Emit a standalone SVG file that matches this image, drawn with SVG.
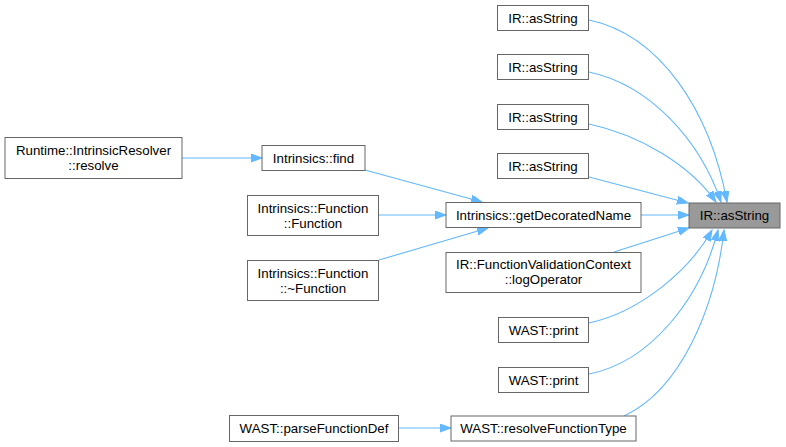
<svg xmlns="http://www.w3.org/2000/svg" width="786" height="447" viewBox="0 0 786 447">
<defs>
<marker id="ah" markerWidth="13" markerHeight="10" refX="11" refY="4" orient="auto" markerUnits="userSpaceOnUse">
<path d="M0,0 L11,4 L0,8 z" fill="#63b8ff" stroke="#63b8ff" stroke-width="1"/>
</marker>
</defs>
<style>
.n rect{fill:#ffffff;stroke:#666666;stroke-width:1}
.n.m rect{fill:#999999}
.n text{font-family:"Liberation Sans",Arial,sans-serif;font-size:13.3px;fill:#000000;text-anchor:middle}
.e path{fill:none;stroke:#63b8ff;stroke-width:1.1;marker-end:url(#ah)}
</style>
<rect width="786" height="447" fill="#ffffff"/>
<g class="e" id="connectors">
<path d="M589,20 C660,35 710,110 727,202"/>
<path d="M589,72 C650,85 700,140 721,202"/>
<path d="M589,124 C640,135 690,165 716,202"/>
<path d="M589,177 L688,203"/>
<path d="M641,215 L689,215"/>
<path d="M614,252 L689,228"/>
<path d="M589,323 C640,312 690,270 712,230"/>
<path d="M589,374 C650,362 700,300 718,230"/>
<path d="M624,416 C680,390 715,310 724,230"/>
<path d="M365,170 L482,202"/>
<path d="M379,215 L446,215"/>
<path d="M379,260 L488,228"/>
<path d="M182,158 L262,158"/>
<path d="M398,428 L451,428"/>
</g>
<g class="n m" id="main"><rect x="689" y="203" width="91" height="25"/><text x="734.5" y="220">IR::asString</text></g>
<g class="n" id="as1"><rect x="497.5" y="5.5" width="91" height="25"/><text x="543" y="22.5">IR::asString</text></g>
<g class="n" id="as2"><rect x="497.5" y="54.5" width="91" height="25"/><text x="543" y="71.5">IR::asString</text></g>
<g class="n" id="as3"><rect x="497.5" y="104.5" width="91" height="25"/><text x="543" y="121.5">IR::asString</text></g>
<g class="n" id="as4"><rect x="497.5" y="153.5" width="91" height="25"/><text x="543" y="170.5">IR::asString</text></g>
<g class="n" id="getdec"><rect x="446" y="202.5" width="195" height="25"/><text x="543.5" y="219.5">Intrinsics::getDecoratedName</text></g>
<g class="n" id="logop"><rect x="446" y="252.5" width="195" height="40"/><text x="543.5" y="269">IR::FunctionValidationContext</text><text x="543.5" y="284">::logOperator</text></g>
<g class="n" id="print1"><rect x="498.5" y="317.5" width="90" height="25"/><text x="543.5" y="334.5">WAST::print</text></g>
<g class="n" id="print2"><rect x="498.5" y="367.5" width="90" height="25"/><text x="543.5" y="384.5">WAST::print</text></g>
<g class="n" id="resolveft"><rect x="451" y="416" width="185" height="25"/><text x="543.5" y="433">WAST::resolveFunctionType</text></g>
<g class="n" id="parsefd"><rect x="229.5" y="415.5" width="169" height="26"/><text x="314" y="433">WAST::parseFunctionDef</text></g>
<g class="n" id="rtresolve"><rect x="5" y="137.5" width="177" height="41"/><text x="93.5" y="155">Runtime::IntrinsicResolver</text><text x="93.5" y="170">::resolve</text></g>
<g class="n" id="find"><rect x="262" y="145.5" width="103" height="25"/><text x="313.5" y="162.5">Intrinsics::find</text></g>
<g class="n" id="fnctor"><rect x="247.5" y="195.5" width="131" height="40"/><text x="313" y="213">Intrinsics::Function</text><text x="313" y="228">::Function</text></g>
<g class="n" id="fndtor"><rect x="247.5" y="260.5" width="131" height="40"/><text x="313" y="278">Intrinsics::Function</text><text x="313" y="293">::~Function</text></g>
</svg>
